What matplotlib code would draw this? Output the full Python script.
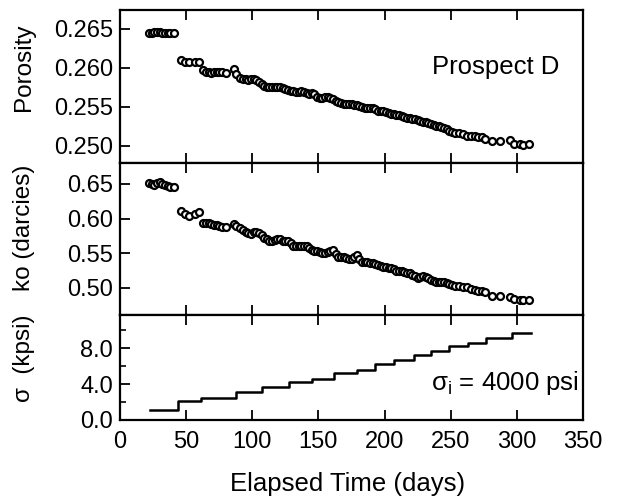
import matplotlib

matplotlib.use("Agg")
import matplotlib.pyplot as plt
from matplotlib.ticker import MultipleLocator

plt.rcParams.update(
    {
        "font.family": ["Liberation Sans", "DejaVu Sans"],
        "mathtext.fontset": "custom",
        "mathtext.rm": "Liberation Sans",
        "mathtext.it": "Liberation Sans:italic",
        "axes.linewidth": 1.6,
        "xtick.direction": "in",
        "ytick.direction": "in",
    }
)

# elapsed time of each measurement (days)
days = [
    22, 24, 26, 28, 30, 32, 34, 36, 38, 41,
    46, 49, 52, 57, 60,
    63, 65, 67, 69, 71, 73, 75, 77, 80,
    86, 88, 91, 93, 95, 97, 99, 101, 103, 105,
    107, 109, 111, 113, 115, 117, 119, 121, 123, 125,
    127, 129, 131, 133, 135, 137, 139, 141, 143, 145,
    147, 149, 151, 153, 155, 157, 159, 161, 163, 165,
    167, 169, 171, 173, 175, 177, 179, 181, 183, 185,
    187, 189, 191, 193, 195, 197, 199, 201, 203, 205,
    207, 209, 211, 213, 215, 217, 219, 221, 223, 225,
    227, 229, 231, 233, 235, 237, 239, 241, 243, 245,
    247, 249, 251, 253, 256, 259, 262, 265, 268, 271,
    274, 276, 281, 287, 295, 298, 302, 305, 309,
]

porosity = [
    0.2645, 0.2645, 0.2646, 0.2646, 0.2646, 0.2645, 0.2645, 0.2645, 0.2645, 0.2645,
    0.2610, 0.2608, 0.2607, 0.2608, 0.2608,
    0.2597, 0.2595, 0.2594, 0.2593, 0.2594, 0.2595, 0.2594, 0.2594, 0.2593,
    0.2598, 0.2592, 0.2587, 0.2585, 0.2585, 0.2584, 0.2585, 0.2585, 0.2584, 0.2582,
    0.2579, 0.2577, 0.2576, 0.2576, 0.2575, 0.2576, 0.2575, 0.2575, 0.2574, 0.2573,
    0.2571, 0.2570, 0.2570, 0.2569, 0.2569, 0.2570, 0.2569, 0.2568, 0.2567, 0.2568,
    0.2566, 0.2563, 0.2561, 0.2561, 0.2562, 0.2562, 0.2561, 0.2560, 0.2558, 0.2556,
    0.2555, 0.2554, 0.2554, 0.2553, 0.2553, 0.2552, 0.2552, 0.2551, 0.2550, 0.2549,
    0.2549, 0.2548, 0.2548, 0.2547, 0.2545, 0.2544, 0.2544, 0.2543, 0.2542, 0.2541,
    0.2541, 0.2540, 0.2539, 0.2538, 0.2537, 0.2536, 0.2536, 0.2535, 0.2534, 0.2533,
    0.2532, 0.2531, 0.2530, 0.2529, 0.2528, 0.2527, 0.2526, 0.2525, 0.2524, 0.2523,
    0.2521, 0.2519, 0.2518, 0.2517, 0.2516, 0.2515, 0.2513, 0.2512, 0.2512, 0.2511,
    0.2511, 0.2509, 0.2506, 0.2506, 0.2507, 0.2502, 0.2502, 0.2501, 0.2502,
]

ko = [
    0.651, 0.650, 0.649, 0.651, 0.652, 0.650, 0.648, 0.647, 0.646, 0.646,
    0.611, 0.606, 0.603, 0.607, 0.610,
    0.594, 0.594, 0.593, 0.592, 0.591, 0.590, 0.589, 0.588, 0.588,
    0.592, 0.589, 0.586, 0.583, 0.581, 0.579, 0.578, 0.580, 0.581, 0.579,
    0.576, 0.572, 0.570, 0.567, 0.568, 0.569, 0.570, 0.570, 0.568, 0.567,
    0.568, 0.565, 0.561, 0.560, 0.561, 0.561, 0.560, 0.561, 0.558, 0.555,
    0.553, 0.553, 0.552, 0.551, 0.550, 0.552, 0.553, 0.554, 0.549, 0.545,
    0.545, 0.544, 0.543, 0.542, 0.542, 0.545, 0.547, 0.541, 0.538, 0.537,
    0.537, 0.536, 0.536, 0.535, 0.533, 0.531, 0.530, 0.530, 0.529, 0.528,
    0.527, 0.525, 0.524, 0.524, 0.523, 0.522, 0.521, 0.519, 0.517, 0.515,
    0.516, 0.517, 0.516, 0.514, 0.512, 0.510, 0.509, 0.509, 0.508, 0.508,
    0.507, 0.506, 0.504, 0.503, 0.503, 0.502, 0.501, 0.499, 0.497, 0.496,
    0.495, 0.494, 0.489, 0.489, 0.487, 0.484, 0.483, 0.482, 0.482,
]

# confining stress schedule (step starts, kpsi)
step_days = [23, 44, 61, 88, 107, 128, 145, 162, 179, 193, 207, 222, 235, 249, 263, 277, 296, 311]
stress = [1.1, 2.1, 2.5, 3.1, 3.7, 4.2, 4.6, 5.2, 5.6, 6.2, 6.7, 7.2, 7.7, 8.2, 8.6, 9.1, 9.7, 9.7]

W, H = 622, 500
fig = plt.figure(figsize=(W / 100, H / 100), dpi=100)
left, right = 120 / W, 583 / W


def panel(top_px, bot_px):
    return fig.add_axes([left, 1 - bot_px / H, right - left, (bot_px - top_px) / H])


ax1 = panel(10, 163)
ax2 = panel(163, 315)
ax3 = panel(315, 420)

mk = dict(linestyle="none", marker="o", ms=5, mfc="white", mec="black", mew=1.6)
ax1.plot(days, porosity, **mk)
ax2.plot(days, ko, **mk)
ax3.plot(step_days, stress, drawstyle="steps-post", color="black", lw=1.8)

ax1.set_ylim(0.2478, 0.2674)
ax1.set_yticks([0.250, 0.255, 0.260, 0.265])
ax1.set_yticklabels(["0.250", "0.255", "0.260", "0.265"])
ax2.set_ylim(0.461, 0.680)
ax2.set_yticks([0.50, 0.55, 0.60, 0.65])
ax2.set_yticklabels(["0.50", "0.55", "0.60", "0.65"])
ax3.set_ylim(0, 11.67)
ax3.set_yticks([0, 4, 8])
ax3.set_yticklabels(["0.0", "4.0", "8.0"])
ax3.yaxis.set_minor_locator(MultipleLocator(2))

for ax in (ax1, ax2, ax3):
    ax.set_xlim(0, 350)
    ax.set_xticks(range(0, 351, 50))
    ax.tick_params(axis="both", which="major", labelsize=17, length=7, width=1.3,
                   top=True, right=False, pad=5)
    ax.tick_params(axis="y", which="minor", length=4, width=1.2)
for ax in (ax1, ax2):
    ax.tick_params(axis="x", labelbottom=False)
ax3.tick_params(axis="x", pad=8)

ax1.text(0.95, 0.63, "Prospect D", transform=ax1.transAxes, ha="right", va="center", fontsize=18.5)
ax3.text(0.99, 0.35, r"$\mathrm{\sigma_{i}}$ = 4000 psi", transform=ax3.transAxes,
         ha="right", va="center", fontsize=18.5)

fig.text(24 / W, 1 - 67 / H, "Porosity", rotation=90, ha="center", va="center", fontsize=17.5)
fig.text(24 / W, 1 - 228 / H, "ko (darcies)", rotation=90, ha="center", va="center", fontsize=17.5)
fig.text(24 / W, 1 - 358 / H, "σ  (kpsi)", rotation=90, ha="center", va="center", fontsize=17.5)
fig.text(348 / W, 1 - 484 / H, "Elapsed Time (days)", ha="center", va="center", fontsize=18.5)

fig.savefig("out.png", dpi=100)
